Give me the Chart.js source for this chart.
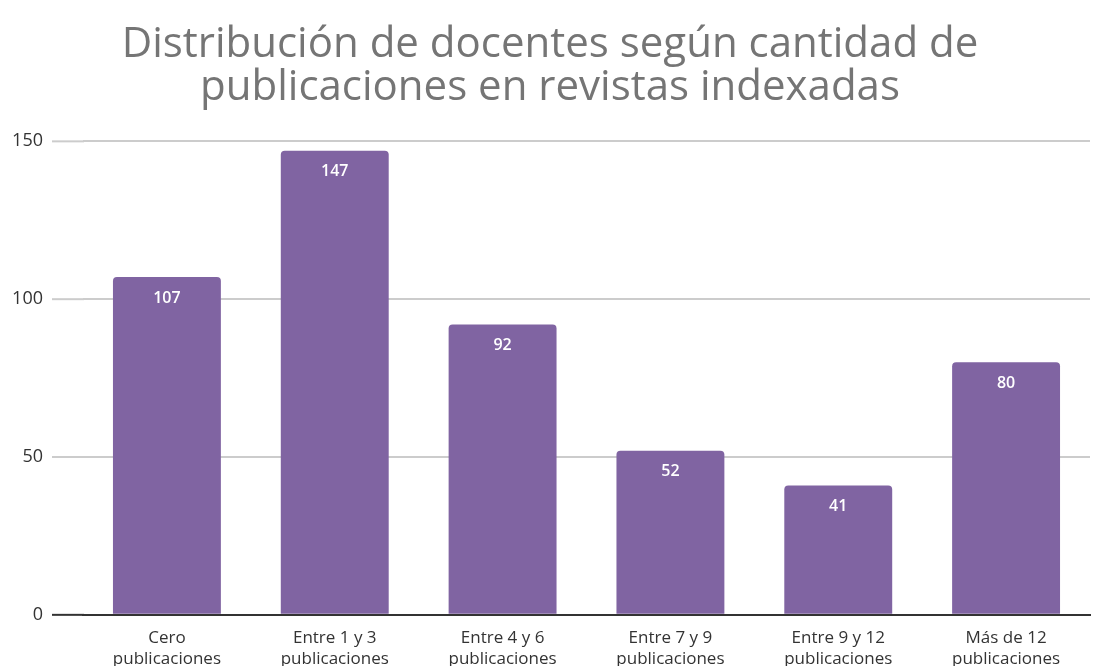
<!DOCTYPE html>
<html>
<head>
<meta charset="utf-8">
<script src="https://cdn.jsdelivr.net/npm/chart.js@4"></script>
<style>
  html, body { margin: 0; padding: 0; background: #fff; overflow: hidden; }
  #wrap { width: 1104px; height: 666px; overflow: hidden; }
</style>
</head>
<body>
<div id="wrap"><canvas id="docChart" width="1104" height="683"></canvas></div>
<script>
const categorias = [
    ['Cero', 'publicaciones'],
    ['Entre 1 y 3', 'publicaciones'],
    ['Entre 4 y 6', 'publicaciones'],
    ['Entre 7 y 9', 'publicaciones'],
    ['Entre 9 y 12', 'publicaciones'],
    ['Más de 12', 'publicaciones']
];
const docentes = [107, 147, 92, 52, 41, 80];
const ticksY = [0, 50, 100, 150];

// las lineas de la grilla empiezan un poco antes que las barras
const extensionGrilla = {
    id: 'extensionGrilla',
    beforeDatasetsDraw(chart) {
        const c = chart.ctx;
        const area = chart.chartArea;
        const y = chart.scales.y;
        c.save();
        c.lineWidth = 2;
        ticksY.forEach(v => {
            const py = y.getPixelForValue(v);
            c.strokeStyle = v === 0 ? '#333333' : '#cccccc';
            c.beginPath();
            c.moveTo(area.left - 31, py);
            c.lineTo(area.left + 1, py);
            c.stroke();
        });
        c.restore();
    }
};

// etiquetas blancas dentro de cada barra
const etiquetas = {
    id: 'etiquetas',
    afterDatasetsDraw(chart) {
        const c = chart.ctx;
        const meta = chart.getDatasetMeta(0);
        c.save();
        c.fillStyle = '#ffffff';
        c.font = '600 16px "Open Sans"';
        c.textAlign = 'center';
        c.textBaseline = 'middle';
        meta.data.forEach((bar, i) => {
            c.fillText(docentes[i], bar.x, bar.y + 21);
        });
        c.restore();
    }
};

const ctx = document.getElementById('docChart').getContext('2d');
const docChart = new Chart(ctx, {
    type: 'bar',
    data: {
        labels: categorias,
        datasets: [{
            label: 'Docentes',
            data: docentes,
            backgroundColor: '#8064a2',
            borderRadius: { topLeft: 4, topRight: 4 },
            borderSkipped: 'bottom',
            categoryPercentage: 0.643,
            barPercentage: 1
        }]
    },
    options: {
        responsive: false,
        animation: false,
        layout: { padding: { left: 10, right: 14, top: 0, bottom: 0 } },
        plugins: {
            legend: { display: false },
            tooltip: { enabled: false },
            title: {
                display: true,
                text: ['Distribución de docentes según cantidad de', 'publicaciones en revistas indexadas'],
                color: '#757575',
                font: { family: 'Open Sans', size: 42, weight: 'normal', lineHeight: 1.04 },
                padding: { top: 23, bottom: 31 }
            }
        },
        scales: {
            y: {
                min: 0,
                max: 150,
                afterBuildTicks: axis => { axis.ticks = ticksY.map(v => ({ value: v })); },
                afterFit: axis => { axis.width = 73; },
                grid: { color: '#cccccc', lineWidth: 2, drawTicks: false },
                border: { display: false },
                ticks: {
                    color: '#333333',
                    padding: 40,
                    font: { family: 'Open Sans', size: 18 }
                }
            },
            x: {
                grid: { display: false, drawTicks: false },
                border: { color: '#333333', width: 2 },
                ticks: {
                    color: '#333333',
                    padding: 13,
                    maxRotation: 0,
                    font: { family: 'Open Sans', size: 17, lineHeight: 1.24 }
                }
            }
        }
    },
    plugins: [extensionGrilla, etiquetas]
});
</script>
</body>
</html>
